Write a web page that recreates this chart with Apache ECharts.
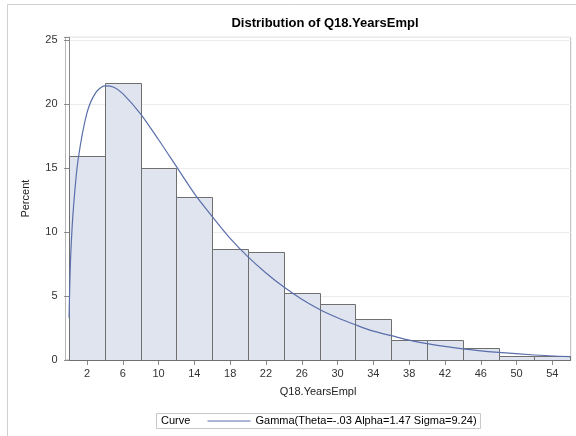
<!DOCTYPE html>
<html>
<head>
<meta charset="utf-8">
<script src="https://cdn.jsdelivr.net/npm/echarts@6/dist/echarts.min.js"></script>
<style>
html,body{margin:0;padding:0;background:#fff;}
#chart{width:576px;height:436px;}
</style>
</head>
<body>
<div id="chart"></div>
<script>
// Histogram bins (left edges, width 4) and percents
const binStarts = [0, 4, 8, 12, 16, 20, 24, 28, 32, 36, 40, 44, 48, 52];
const binWidth = 4;
const percents = [15.9, 21.6, 15.0, 12.7, 8.7, 8.4, 5.2, 4.4, 3.2, 1.55, 1.55, 0.9, 0.35, 0.3];
// Fitted gamma curve
const curveX = [0, 0.1, 0.25, 0.5, 1, 2, 3, 4, 5, 6, 8, 10, 12, 14, 16, 18, 20, 22, 24, 26, 28, 30, 32, 34, 36, 38, 40, 44, 48, 52, 56];
const curveY = [3.3, 6.5, 9.2, 12.0, 15.6, 19.3, 20.9, 21.4, 21.3, 20.8, 19.2, 17.2, 15.1, 13.0, 11.2, 9.5, 8.05, 6.8, 5.7, 4.75, 3.95, 3.3, 2.75, 2.25, 1.9, 1.55, 1.28, 0.87, 0.59, 0.39, 0.26];
const xTicks = [2, 6, 10, 14, 18, 22, 26, 30, 34, 38, 42, 46, 50, 54];
const titleText = 'Distribution of Q18.YearsEmpl';
const xName = 'Q18.YearsEmpl';
const yName = 'Percent';
const curveName = 'Gamma(Theta=-.03 Alpha=1.47 Sigma=9.24)';

const FONT = '"Liberation Sans", Arial, sans-serif';
const chart = echarts.init(document.getElementById('chart'), null, {renderer: 'canvas'});

const barData = binStarts.map((s, i) => [s, s + binWidth, percents[i]]);
const curveData = curveX.map((x, i) => [x, curveY[i]]);

chart.setOption({
  animation: false,
  backgroundColor: '#fff',
  textStyle: {fontFamily: FONT},
  title: {
    text: titleText,
    left: 320, top: 12, textAlign: 'center',
    textStyle: {fontFamily: FONT, fontSize: 13, fontWeight: 'bold', color: '#000'}
  },
  grid: {
    left: 65.5, right: 5.3, top: 37.3, bottom: 76,
    show: true, borderColor: '#b8b8b8', borderWidth: 1, backgroundColor: 'transparent'
  },
  legend: {
    left: 156.5, top: 413.5,
    data: [{name: curveName, icon: 'rect'}],
    itemWidth: 43, itemHeight: 1.2, itemGap: 6,
    padding: [1, 4, 1, 51],
    borderColor: '#c8c8c8', borderWidth: 1,
    textStyle: {fontFamily: FONT, fontSize: 11, color: '#000', lineHeight: 13},
    selectedMode: false
  },
  graphic: [
    {type: 'rect', shape: {x: 7.5, y: 4.5, width: 700, height: 600}, style: {fill: 'none', stroke: '#d0d0d0', lineWidth: 1}, silent: true, z: -10},
    {type: 'text', left: 161, top: 415.5, style: {text: 'Curve', font: '11px ' + FONT, fill: '#000'}}
  ],
  xAxis: {
    type: 'value', min: -0.4, max: 56.05,
    name: xName, nameLocation: 'middle', nameGap: 26,
    nameTextStyle: {fontFamily: FONT, fontSize: 11, color: '#222'},
    axisLine: {show: true, lineStyle: {color: '#8a8a8a'}},
    axisTick: {show: true, length: 5, customValues: xTicks, lineStyle: {color: '#8a8a8a'}},
    axisLabel: {customValues: xTicks, fontFamily: FONT, fontSize: 11, color: '#333', margin: 8},
    splitLine: {show: false}
  },
  yAxis: {
    type: 'value', min: 0, max: 25.2, interval: 5,
    name: yName, nameLocation: 'middle', nameGap: 34, nameRotate: 90,
    nameTextStyle: {fontFamily: FONT, fontSize: 11, color: '#222'},
    axisLine: {show: true, lineStyle: {color: '#8a8a8a'}},
    axisTick: {show: true, length: 5, lineStyle: {color: '#8a8a8a'}},
    axisLabel: {fontFamily: FONT, fontSize: 11, color: '#333', margin: 8,
      formatter: v => (v % 5 === 0 ? String(v) : '')},
    splitLine: {show: true, lineStyle: {color: '#ececec'}}
  },
  series: [
    {
      type: 'custom', name: 'Histogram',
      renderItem: function (params, api) {
        const p0 = api.coord([api.value(0), api.value(2)]);
        const p1 = api.coord([api.value(1), 0]);
        return {
          type: 'rect',
          shape: {x: Math.round(p0[0]) + 0.5, y: Math.round(p0[1]) + 0.5, width: Math.round(p1[0]) - Math.round(p0[0]), height: Math.round(p1[1]) - Math.round(p0[1])},
          style: {fill: '#dfe4ee', stroke: '#6f6f6f', lineWidth: 1}
        };
      },
      encode: {x: [0, 1], y: 2},
      data: barData, z: 2
    },
    {
      type: 'line', name: curveName,
      data: curveData, smooth: 0.3, symbol: 'none', showSymbol: false,
      lineStyle: {color: '#5a6eab', width: 1.2},
      itemStyle: {color: '#5a6eab'},
      z: 3
    }
  ]
});
</script>
</body>
</html>
